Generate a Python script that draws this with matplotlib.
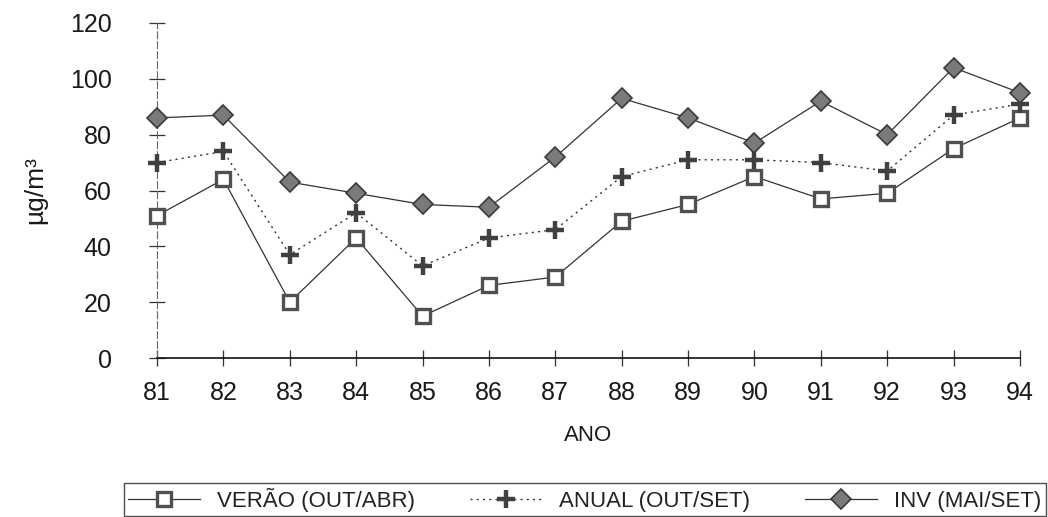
import numpy as np
import matplotlib
matplotlib.use('Agg')
import matplotlib.pyplot as plt

# --- DATA ---
anos = [81, 82, 83, 84, 85, 86, 87, 88, 89, 90, 91, 92, 93, 94]
verao = [51, 64, 20, 43, 15, 26, 29, 49, 55, 65, 57, 59, 75, 86]
anual = [70, 74, 37, 52, 33, 43, 46, 65, 71, 71, 70, 67, 87, 91]
inverno = [86, 87, 63, 59, 55, 54, 72, 93, 86, 77, 92, 80, 104, 95]
y_ticks = [0, 20, 40, 60, 80, 100, 120]

labels = ['VERÃO (OUT/ABR)', 'ANUAL (OUT/SET)', 'INV (MAI/SET)']

plt.rcParams['font.family'] = ['Liberation Sans', 'DejaVu Sans']

W, H = 1048, 517
fig = plt.figure(figsize=(W / 100, H / 100), dpi=100)
ax = fig.add_axes([157 / W, 1 - 358 / H, (1020 - 157) / W, (358 - 23) / H])

line_col = '#333333'

ax.plot(anos, verao, color=line_col, lw=0.9, linestyle='-',
        marker='s', markersize=10.5, markerfacecolor='white',
        markeredgecolor='#505050', markeredgewidth=2.4,
        label=labels[0], clip_on=False, zorder=3)
ax.plot(anos, anual, color=line_col, lw=1.0, linestyle=(0, (1.5, 3)),
        marker='+', markersize=13, markeredgecolor='#404040',
        markeredgewidth=3.2, label=labels[1], clip_on=False, zorder=3)
ax.plot(anos, inverno, color=line_col, lw=0.9, linestyle='-',
        marker='D', markersize=10, markerfacecolor='#7a7a7a',
        markeredgecolor='#3a3a3a', markeredgewidth=1.2,
        label=labels[2], clip_on=False, zorder=3)

ax.set_xlim(81, 94)
ax.set_ylim(0, 120)
ax.set_xticks(anos)
ax.set_xticklabels([str(a) for a in anos])
ax.set_yticks(y_ticks)

for side in ['top', 'right']:
    ax.spines[side].set_visible(False)
ax.spines['bottom'].set_color('#111111')
ax.spines['bottom'].set_linewidth(1.2)
ax.spines['left'].set_color('#666666')
ax.spines['left'].set_linewidth(0.8)
ax.spines['left'].set_linestyle((0, (6, 3)))

ax.tick_params(axis='both', direction='inout', length=11.5, width=0.9,
               colors='#333333', labelsize=18, labelcolor='#1a1a1a')
ax.tick_params(axis='x', pad=11)
ax.tick_params(axis='y', pad=27)

ax.set_xlabel('ANO', fontsize=16, color='#1a1a1a', labelpad=14)
ax.set_ylabel('µg/m³', fontsize=19, color='#1a1a1a', labelpad=16)

leg = fig.legend(loc='lower left',
                 bbox_to_anchor=(124 / W, 1 / H, (1046 - 124) / W, 36 / H),
                 mode='expand', ncol=3, fontsize=16, frameon=True,
                 fancybox=False, edgecolor='#222222', handlelength=3.2,
                 handletextpad=0.8, borderaxespad=0, borderpad=0.2)
leg.get_frame().set_linewidth(1.0)
for t in leg.get_texts():
    t.set_color('#222222')

fig.savefig('out.png', dpi=100)
